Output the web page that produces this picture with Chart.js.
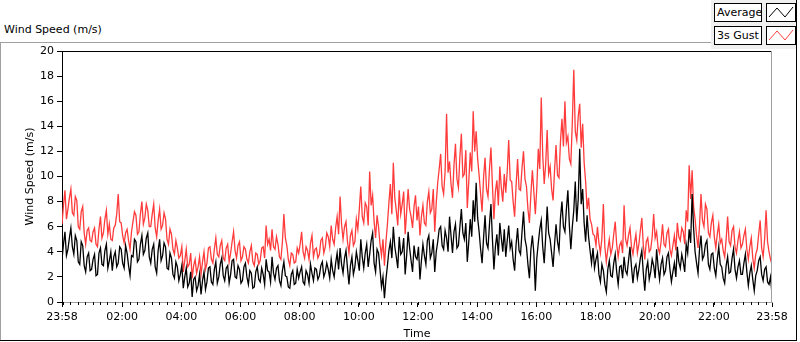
<!DOCTYPE html>
<html>
<head>
<meta charset="utf-8">
<script src="https://cdn.jsdelivr.net/npm/chart.js@4"></script>
<style>
body { margin: 0; background: #fff; font-family: "DejaVu Sans", sans-serif; font-size: 11px; color: #000; }
#wrap { position: relative; width: 800px; height: 342px; overflow: hidden; }
canvas { position: absolute; left: 0; top: 0; }
.title { position: absolute; left: 4px; top: 23px; }
.line { position: absolute; }
#legend { position: absolute; left: 711px; top: 0; width: 85px; height: 49px; background: #f0f0f0; }
.lab { position: absolute; left: 3px; width: 44px; height: 17px; line-height: 17px; background: #fff; border: 1px solid #000; padding-left: 2px; }
.ico { position: absolute; left: 55px; width: 28px; height: 17px; background: #fff; border: 1px solid #000; }
</style>
</head>
<body>
<div id="wrap">
  <div class="line" style="left:0;top:42px;width:711px;height:1px;background:#a0a0a0"></div>
  <div class="line" style="left:0;top:42px;width:1px;height:298px;background:#a0a0a0"></div>
  <div class="line" style="left:0;top:340px;width:797px;height:1px;background:#000"></div>
  <div class="line" style="left:796px;top:0;width:1px;height:341px;background:#000"></div>
  <div class="title">Wind Speed (m/s)</div>
  <div id="legend">
    <div class="lab" style="top:3px">Average</div>
    <div class="ico" style="top:3px"><svg width="28" height="17"><polyline points="2,13 10,4 18,13 26,3" fill="none" stroke="#000" stroke-width="1"/></svg></div>
    <div class="lab" style="top:26px">3s Gust</div>
    <div class="ico" style="top:26px"><svg width="28" height="17"><polyline points="2,13 10,4 18,13 26,3" fill="none" stroke="#ff4040" stroke-width="1"/></svg></div>
  </div>
  <canvas id="chart" width="800" height="342"></canvas>
</div>
<script>
// one sample every 3 minutes from 23:58 to 23:58 next day
const sampleStep = 3;

// one row per hour
const average = [
  3.4, 4.6, 5.6, 3.7, 4.2, 5.1, 5.9, 4.4, 3.8, 5.3, 4.9, 3.2, 3.0, 4.8, 4.5, 2.9, 2.4, 3.6, 3.9, 2.5,
  2.6, 3.4, 3.8, 2.1, 2.2, 3.9, 4.3, 3.0, 2.9, 4.1, 4.6, 2.7, 3.3, 4.0, 2.5, 3.6, 4.0, 2.8, 3.1, 4.4,
  4.2, 3.1, 2.7, 4.5, 3.9, 2.9, 2.1, 3.7, 3.6, 5.0, 4.8, 3.2, 3.4, 4.6, 5.3, 3.8, 4.1, 5.1, 5.5, 3.6,
  3.1, 4.2, 4.6, 2.8, 2.3, 4.1, 5.0, 3.3, 3.7, 4.7, 4.4, 2.7, 2.6, 3.9, 3.5, 2.2, 1.9, 3.2, 2.8, 1.7,
  2.2, 2.9, 1.1, 2.0, 2.7, 1.2, 1.5, 2.4, 0.4, 1.8, 2.0, 0.9, 1.3, 2.2, 0.6, 1.7, 2.4, 1.0, 1.6, 2.7,
  2.8, 1.6, 1.4, 2.6, 3.2, 1.5, 2.0, 3.0, 3.5, 2.1, 1.7, 2.7, 2.9, 1.5, 2.2, 3.3, 3.4, 2.0, 1.9, 2.9,
  2.6, 1.5, 1.7, 2.8, 3.1, 2.0, 1.4, 2.5, 2.3, 1.1, 1.2, 2.4, 2.8, 1.8, 1.6, 2.7, 2.2, 1.4, 3.4, 2.5,
  2.4, 1.6, 3.6, 2.3, 1.8, 2.7, 2.9, 1.7, 1.3, 2.5, 3.2, 2.1, 2.0, 1.2, 1.1, 2.2, 2.5, 1.4, 1.5, 2.6,
  1.9, 2.4, 2.8, 1.6, 1.4, 2.5, 2.2, 1.5, 3.0, 2.3, 1.7, 2.7, 2.6, 1.8, 2.1, 2.9, 3.2, 2.0, 2.4, 3.1,
  2.6, 1.9, 3.4, 2.5, 2.0, 3.1, 3.9, 2.6, 4.3, 3.0, 2.3, 3.5, 4.1, 2.7, 1.4, 2.9, 3.6, 2.2, 2.8, 4.0,
  3.3, 2.5, 5.0, 3.6, 2.7, 3.9, 4.6, 2.8, 3.8, 4.9, 5.5, 3.1, 2.4, 4.2, 3.9, 2.6, 1.2, 2.0, 0.3, 1.8,
  2.9, 4.1, 4.8, 3.5, 6.0, 4.4, 3.6, 2.7, 5.2, 3.8, 4.0, 5.1, 2.2, 3.7, 5.6, 4.3, 3.3, 2.4, 4.5, 3.6,
  3.4, 4.4, 1.8, 3.3, 4.6, 3.7, 3.0, 4.9, 5.3, 3.5, 3.9, 5.0, 2.4, 4.0, 4.8, 5.8, 6.0, 4.5, 4.2, 5.7,
  5.1, 4.0, 6.8, 5.3, 3.9, 5.6, 6.2, 4.3, 4.5, 6.0, 7.4, 5.5, 5.0, 6.3, 3.2, 4.8, 6.6, 5.2, 8.1, 6.4,
  9.5, 6.7, 5.6, 4.2, 3.1, 5.1, 6.9, 4.7, 4.3, 6.2, 7.8, 5.0, 2.6, 4.4, 5.4, 3.7, 6.3, 5.1, 4.0, 5.8,
  3.6, 4.9, 6.1, 4.3, 4.8, 3.4, 2.5, 4.6, 5.9, 4.1, 3.8, 5.6, 7.2, 5.0, 4.4, 3.0, 1.9, 4.2, 5.3, 3.9,
  0.9, 3.5, 4.7, 5.8, 6.5, 4.4, 3.1, 5.2, 7.6, 5.5, 5.0, 3.9, 2.8, 4.6, 6.2, 4.8, 4.1, 6.7, 8.0, 6.0,
  5.6, 7.4, 8.9, 6.1, 4.2, 6.0, 7.3, 9.6, 6.4, 8.2, 12.2, 7.8, 9.0, 6.3, 4.8, 6.9, 5.2, 4.1, 3.1, 4.3,
  2.7, 3.4, 3.9, 2.2, 1.6, 3.0, 2.5, 1.4, 0.8, 2.6, 3.3, 2.1, 2.0, 3.1, 3.8, 2.4, 1.4, 2.8, 2.9, 1.9,
  3.6, 2.5, 2.2, 3.3, 4.4, 2.8, 1.5, 2.7, 3.0, 1.9, 2.6, 3.5, 4.1, 2.3, 0.9, 2.6, 3.2, 1.8, 2.4, 3.4,
  2.9, 1.9, 4.2, 2.8, 1.8, 3.0, 3.5, 2.2, 2.5, 3.6, 3.9, 2.6, 1.6, 2.4, 3.1, 2.0, 4.4, 3.2, 2.7, 3.8,
  3.2, 2.4, 4.6, 3.9, 5.8, 4.7, 8.6, 5.9, 4.0, 3.1, 2.3, 4.2, 5.3, 3.4, 3.7, 4.6, 4.9, 3.0, 2.6, 3.8,
  3.9, 2.7, 2.1, 3.4, 4.4, 3.0, 2.8, 1.9, 1.5, 2.9, 3.6, 2.3, 2.4, 3.5, 4.2, 2.6, 1.9, 2.8, 3.3, 2.2,
  2.2, 3.1, 3.8, 2.4, 1.3, 2.3, 2.9, 1.8, 0.9, 2.1, 2.5, 3.3, 3.6, 2.2, 1.7, 2.6, 2.8, 1.6, 1.4, 2.0, 0.6
];

const gust = [
  6.2, 7.7, 8.9, 6.6, 7.4, 8.3, 9.0, 7.1, 6.9, 8.4, 8.1, 6.0, 5.8, 7.2, 7.6, 5.5, 4.6, 5.7, 5.9, 4.9,
  4.8, 5.6, 5.9, 4.6, 4.4, 5.8, 6.8, 5.1, 5.5, 6.6, 7.3, 5.4, 6.2, 5.0, 4.9, 5.9, 6.1, 7.0, 8.6, 6.4,
  6.3, 5.3, 4.7, 5.5, 5.8, 4.9, 4.2, 5.6, 6.4, 7.2, 6.9, 5.4, 5.6, 7.0, 8.0, 6.2, 6.7, 7.8, 7.3, 6.0,
  6.0, 7.0, 7.8, 5.9, 5.2, 6.5, 7.4, 5.8, 6.1, 7.1, 6.6, 5.0, 4.6, 5.8, 5.4, 4.2, 3.8, 4.9, 4.3, 3.5,
  3.7, 4.4, 2.4, 3.3, 4.2, 2.8, 3.0, 3.9, 1.9, 2.9, 3.4, 2.3, 2.8, 3.6, 2.2, 3.2, 4.0, 2.6, 3.1, 4.3,
  4.4, 3.4, 3.1, 4.2, 5.1, 3.8, 3.6, 4.5, 4.9, 3.5, 3.3, 4.3, 4.6, 3.2, 3.9, 4.8, 5.6, 4.1, 3.5, 4.5,
  4.8, 3.3, 3.6, 4.4, 4.2, 3.4, 3.1, 4.0, 4.5, 3.2, 2.9, 3.9, 3.8, 3.0, 3.3, 4.3, 4.4, 3.5, 6.1, 4.6,
  5.0, 4.1, 5.8, 4.4, 4.2, 5.2, 4.6, 3.6, 3.4, 4.8, 7.0, 5.1, 4.5, 3.4, 2.9, 3.9, 3.8, 3.1, 3.2, 4.3,
  3.9, 4.6, 5.6, 4.0, 3.5, 4.4, 4.1, 3.4, 4.7, 5.3, 3.6, 4.2, 4.3, 3.5, 3.8, 4.9, 5.1, 3.9, 4.4, 5.5,
  5.2, 4.4, 6.1, 5.0, 4.6, 5.9, 6.8, 5.4, 8.4, 6.2, 5.0, 6.0, 6.4, 4.8, 3.9, 5.3, 5.7, 4.5, 4.8, 6.6,
  5.8, 7.4, 9.2, 6.8, 6.3, 7.9, 7.6, 6.1, 10.4, 7.7, 8.5, 6.4, 5.1, 6.9, 6.0, 4.6, 3.7, 5.0, 2.9, 4.8,
  6.2, 7.9, 9.4, 7.0, 11.1, 8.3, 7.3, 6.1, 8.9, 7.0, 7.8, 8.8, 5.4, 7.2, 9.0, 7.4, 6.8, 5.9, 7.6, 8.5,
  6.5, 7.6, 5.3, 6.8, 7.7, 6.3, 6.1, 8.0, 8.8, 7.1, 7.4, 9.0, 5.6, 7.9, 9.5, 10.6, 11.8, 9.2, 8.6, 10.4,
  15.0, 10.3, 11.2, 9.4, 8.3, 10.9, 12.6, 9.8, 9.1, 11.6, 13.4, 10.0, 10.2, 12.1, 7.5, 9.6, 11.9, 10.4, 15.2, 12.0,
  13.6, 11.4, 10.1, 8.6, 7.2, 9.9, 11.5, 9.0, 8.4, 10.6, 12.3, 9.3, 6.6, 8.8, 9.7, 7.7, 10.8, 9.1, 8.0, 10.2,
  8.7, 10.4, 12.9, 9.7, 9.6, 8.0, 6.8, 9.3, 11.4, 9.0, 8.9, 10.7, 12.0, 9.8, 9.2, 7.4, 6.3, 8.6, 10.5, 8.8,
  7.0, 9.1, 12.2, 10.6, 16.3, 11.7, 9.4, 11.0, 13.7, 10.2, 10.8, 9.0, 8.1, 10.5, 12.5, 10.1, 9.9, 12.8, 14.6, 12.4,
  16.0, 12.7, 13.2, 11.4, 11.0, 14.3, 18.5, 13.6, 12.9, 14.8, 15.8, 12.3, 14.2, 11.1, 9.6, 7.4, 8.3, 6.6, 6.2, 5.4,
  5.3, 4.5, 6.0, 4.7, 3.9, 5.1, 7.8, 4.4, 3.2, 4.2, 5.0, 3.8, 4.3, 5.4, 6.4, 4.6, 3.6, 4.5, 4.8, 3.9,
  7.7, 5.0, 4.5, 5.3, 5.9, 4.4, 3.8, 4.7, 5.4, 3.9, 4.6, 5.7, 6.7, 4.5, 3.4, 4.8, 5.1, 4.0, 4.2, 5.2,
  7.0, 5.1, 5.6, 4.3, 3.9, 4.8, 6.2, 4.6, 4.4, 5.5, 5.8, 4.2, 3.7, 4.5, 5.3, 4.1, 6.3, 5.2, 4.9, 5.9,
  5.6, 4.6, 7.3, 6.4, 10.9, 8.2, 10.5, 7.6, 6.6, 5.3, 4.3, 6.1, 8.6, 6.5, 6.0, 7.8, 7.4, 5.5, 5.2, 6.3,
  6.9, 5.2, 4.3, 5.4, 6.2, 4.7, 5.0, 4.1, 3.6, 5.0, 6.8, 4.8, 4.5, 5.7, 6.0, 4.4, 3.9, 4.9, 5.6, 4.3,
  4.6, 5.3, 5.8, 4.2, 3.4, 4.4, 5.1, 3.5, 2.7, 3.8, 4.2, 5.4, 6.5, 4.3, 3.6, 5.0, 7.3, 4.8, 4.0, 3.4, 3.0
];

// minutes after 23:58
const xTickValues = [0, 122, 242, 362, 482, 602, 722, 842, 962, 1082, 1202, 1322, 1440];
const xTickLabels = ["23:58", "02:00", "04:00", "06:00", "08:00", "10:00", "12:00",
  "14:00", "16:00", "18:00", "20:00", "22:00", "23:58"];
const minorStart = 2, minorStep = 15;

const font = { family: "DejaVu Sans", size: 11 };

const extras = {
  id: "extras",
  afterDraw(chart) {
    const { ctx, chartArea: a, scales: { x } } = chart;
    ctx.save();
    ctx.lineWidth = 1;
    ctx.strokeStyle = "#000";
    ctx.beginPath();
    ctx.moveTo(a.left, a.top + 0.5);
    ctx.lineTo(a.right, a.top + 0.5);
    ctx.stroke();
    ctx.strokeStyle = "#a0a0a0";
    ctx.beginPath();
    ctx.moveTo(a.right - 0.5, a.top);
    ctx.lineTo(a.right - 0.5, a.bottom);
    ctx.stroke();
    // minor ticks every 15 min
    ctx.strokeStyle = "#000";
    ctx.beginPath();
    for (let t = minorStart; t < 1440; t += minorStep) {
      const px = Math.round(x.getPixelForValue(t)) + 0.5;
      ctx.moveTo(px, a.bottom);
      ctx.lineTo(px, a.bottom + 3);
    }
    ctx.stroke();
    ctx.restore();
  }
};

new Chart(document.getElementById("chart"), {
  type: "line",
  data: {
    datasets: [
      {
        label: "Average",
        data: average.map((v, i) => ({ x: i * sampleStep, y: v })),
        borderColor: "#000",
        borderWidth: 1.3,
        pointRadius: 0,
        tension: 0
      },
      {
        label: "3s Gust",
        data: gust.map((v, i) => ({ x: i * sampleStep, y: v })),
        borderColor: "#ff3b3b",
        borderWidth: 1.3,
        pointRadius: 0,
        tension: 0
      }
    ]
  },
  options: {
    responsive: false,
    animation: false,
    devicePixelRatio: 1,
    layout: { padding: { left: 20, top: 51, right: 28, bottom: 0 } },
    plugins: { legend: { display: false }, tooltip: { enabled: false } },
    scales: {
      x: {
        type: "linear",
        min: 0,
        max: 1440,
        afterBuildTicks: s => { s.ticks = xTickValues.map(v => ({ value: v })); },
        afterFit: s => { s.height = 40; },
        ticks: {
          autoSkip: false,
          maxRotation: 0,
          padding: 4,
          color: "#000",
          font: font,
          callback: (v, i) => xTickLabels[i]
        },
        grid: { drawOnChartArea: false, tickLength: 5, tickColor: "#000" },
        border: { color: "#a0a0a0" },
        title: { display: true, text: "Time", color: "#000", font: font, padding: { top: 0, bottom: 1 } }
      },
      y: {
        min: 0,
        max: 20,
        afterFit: s => { s.width = 42; },
        ticks: { stepSize: 2, padding: 3, color: "#000", font: font },
        grid: { drawOnChartArea: false, tickLength: 5, tickColor: "#000" },
        border: { color: "#000" },
        title: { display: true, text: "Wind Speed (m/s)", color: "#000", font: font, padding: { top: 4, bottom: 4 } }
      }
    }
  },
  plugins: [extras]
});
</script>
</body>
</html>
